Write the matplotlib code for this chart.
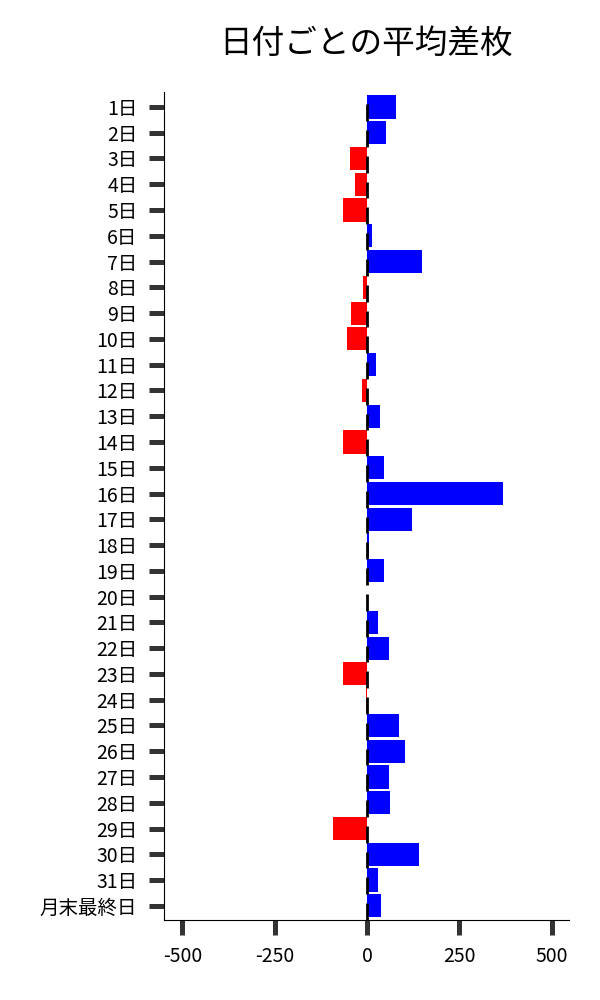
import numpy as np
import matplotlib
matplotlib.use("Agg")
import matplotlib.pyplot as plt

plt.rcParams['font.family'] = ['Noto Sans CJK JP', 'DejaVu Sans']

# 日付ラベルと平均差枚
days = [f"{d}日" for d in range(1, 32)] + ["月末最終日"]
avg_diff = [78, 50, -46, -32, -65, 13, 149, -10, -43, -54,
            24, -14, 35, -65, 46, 369, 121, 5, 46, 1,
            29, 59, -65, -2, 86, 103, 59, 62, -92, 140,
            29, 37]

colors = ['blue' if v >= 0 else 'red' for v in avg_diff]
y = np.arange(len(days))

fig = plt.figure(figsize=(6, 10), dpi=100)
ax = fig.add_axes([0.273, 0.08, 0.675, 0.828])

ax.barh(y, avg_diff, height=0.9, color=colors)
# small black marks at zero
ax.vlines(np.zeros(len(days)), y - 0.1, y + 0.55, color='black', linewidth=2)

ax.set_yticks(y)
ax.set_yticklabels(days, fontsize=14)
ax.set_ylim(len(days) - 0.45, -0.58)
ax.set_xlim(-550, 546)
ax.set_xticks([-500, -250, 0, 250, 500])
ax.set_xticklabels(['-500', '-250', '0', '250', '500'], fontsize=14)

ax.spines['top'].set_visible(False)
ax.spines['right'].set_visible(False)
ax.tick_params(axis='both', length=11, width=3.6, color='#333333', pad=8)

fig.suptitle('日付ごとの平均差枚', fontsize=23.5, x=0.61, y=0.972)

fig.savefig('out.png', dpi=100)
